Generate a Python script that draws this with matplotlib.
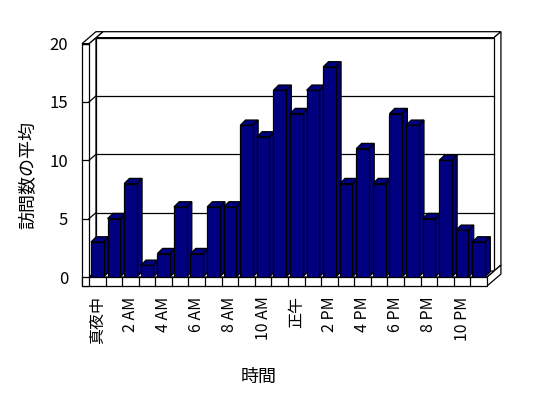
import matplotlib
matplotlib.use("Agg")
import matplotlib.pyplot as plt
from matplotlib.patches import Polygon

plt.rcParams['font.family'] = ['Noto Sans CJK JP', 'DejaVu Sans']

# average visits per hour (0:00 .. 23:00)
hours = list(range(24))
visits = [3, 5, 8, 1, 2, 6, 2, 6, 6, 13, 12, 16, 14, 16, 18, 8, 11, 8, 14, 13, 5, 10, 4, 3]
tick_pos = list(range(0, 24, 2))
tick_labels = ["真夜中", "2 AM", "4 AM", "6 AM", "8 AM", "10 AM",
               "正午", "2 PM", "4 PM", "6 PM", "8 PM", "10 PM"]
y_ticks = [0, 5, 10, 15, 20]

bar_color = "#000080"
W, H = 548, 398
fig = plt.figure(figsize=(W / 100, H / 100), dpi=100)
ax = fig.add_axes([89 / W, 121 / H, 398 / W, 233.4 / H])
ax.set_xlim(-0.5, 23.5)
ax.set_ylim(0, 20)
ax.patch.set_visible(False)
for s in ax.spines.values():
    s.set_visible(False)

# depth offsets in data units
DX, DY = 0.42, 0.51     # plot depth
BDX, BDY = 0.32, 0.45   # bar depth
LW = 0.42               # left wall thickness
FT = 0.77               # floor thickness
x0, x1 = -0.5, 23.5
ymax = 20
lw = 0.9


def poly(pts, fc="white", z=1):
    ax.add_patch(Polygon(pts, closed=True, facecolor=fc, edgecolor="black",
                         linewidth=lw, clip_on=False, zorder=z, joinstyle="miter"))


# back wall slab
poly([(x0 + DX, ymax + DY), (x1 + DX, ymax + DY), (x1 + 2 * DX, ymax + 2 * DY),
      (x0 + 2 * DX, ymax + 2 * DY)])
poly([(x1 + DX, DY), (x1 + 2 * DX, 2 * DY), (x1 + 2 * DX, ymax + 2 * DY),
      (x1 + DX, ymax + DY)])
poly([(x0 + DX, DY), (x1 + DX, DY), (x1 + DX, ymax + DY), (x0 + DX, ymax + DY)])

# floor slab
poly([(x1, -FT), (x1 + 2 * DX, 2 * DY - FT), (x1 + 2 * DX, 2 * DY), (x1, 0)])
poly([(x0, 0), (x1, 0), (x1 + DX, DY), (x0 + DX, DY)])
poly([(x0 - LW, -FT), (x1, -FT), (x1, 0), (x0 - LW, 0)])

# left wall slab
poly([(x0, 0), (x0 + DX, DY), (x0 + DX, ymax + DY), (x0, ymax)])
poly([(x0 - LW, ymax), (x0, ymax), (x0 + 2 * DX, ymax + 2 * DY),
      (x0 - LW + 2 * DX, ymax + 2 * DY)])
poly([(x0 - LW, -FT), (x0, -FT), (x0, ymax), (x0 - LW, ymax)])

# gridlines and ticks
for v in y_ticks[1:-1]:
    ax.plot([x0 + DX, x1 + DX], [v + DY, v + DY], color="black", lw=lw, clip_on=False, zorder=2)
    ax.plot([x0, x0 + DX], [v, v + DY], color="black", lw=lw, clip_on=False, zorder=2)
for v in y_ticks:
    ax.plot([x0 - LW, x0], [v, v], color="black", lw=lw, clip_on=False, zorder=2)
for k in range(1, 24):
    ax.plot([x0 + k, x0 + k], [-FT, 0], color="black", lw=lw, clip_on=False, zorder=2)

# bars
bw = 0.76
bars = ax.bar(hours, visits, width=bw, color=bar_color, edgecolor="black",
              linewidth=lw, zorder=3)
for i, (rect, v) in enumerate(zip(bars, visits)):
    left = rect.get_x()
    right = left + rect.get_width()
    z = 3 + i * 0.01
    rect.set_zorder(z + 0.005)
    poly([(right, 0), (right + BDX, BDY), (right + BDX, v + BDY), (right, v)], fc=bar_color, z=z)
    poly([(left, v), (right, v), (right + BDX, v + BDY), (left + BDX, v + BDY)], fc=bar_color, z=z)

ax.set_yticks(y_ticks)
ax.set_yticklabels([str(v) for v in y_ticks], fontsize=12)
ax.set_xticks(tick_pos)
ax.set_xticklabels(tick_labels, rotation=90, fontsize=11.5, va="top")
ax.tick_params(axis="y", length=0, pad=15)
ax.tick_params(axis="x", length=0, pad=14)

fig.text(28 / W, 1 - 175 / H, "訪問数の平均", rotation=90, ha="center", va="center", fontsize=13)
fig.text(259 / W, 1 - 377 / H, "時間", ha="center", va="center", fontsize=13)

fig.savefig("out.png", dpi=100)
